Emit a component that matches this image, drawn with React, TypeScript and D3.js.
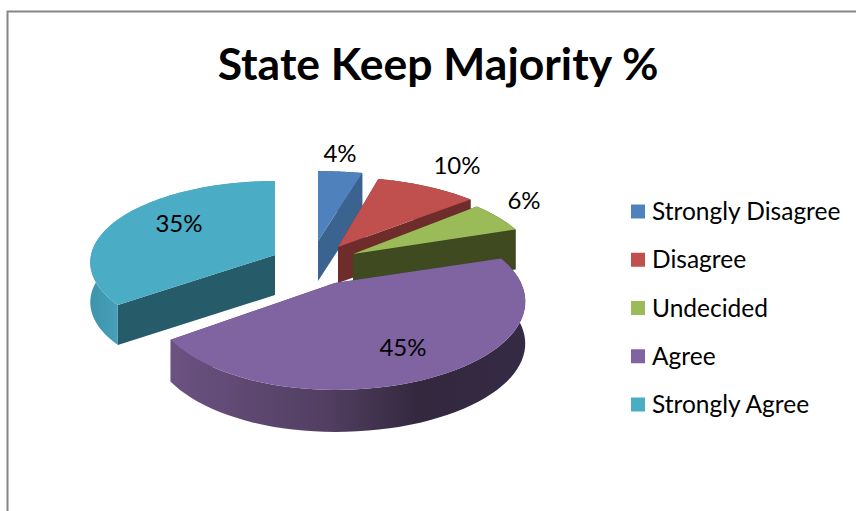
import React from "react";
import * as d3 from "d3";

const categories = ["Strongly Disagree", "Disagree", "Undecided", "Agree", "Strongly Agree"];
const values = [4, 10, 6, 45, 35];
const title = "State Keep Majority %";

const topColors = ["#4f81bd", "#c0504d", "#9bbb59", "#8064a2", "#4bacc6"];
const faceColors = ["#3b6390", "#6e2c2b", "#3f4a20", "#4a3a60", "#265b69"];
const apexes: [number, number][] = [[318, 241], [338, 247], [353, 254], [335, 283], [275, 255]];
const depths = [40, 36, 40, 42, 40];
const labelPositions: [number, number][] = [[340, 154], [457, 166], [524, 201], [403, 348], [179, 224]];
const drawOrder = [0, 4, 1, 2, 3];

const radiiRight = [214, 195, 182, 186, 184];
const radiiLeft = [214, 195, 182, 178, 184];
const perspectives = [0.21, 0.21, 0.21, 0.21, 0.09];
const tilts = [84.5, 84.5, 84.5, 84.5, 80.6];
const FONT = "Lato, Carlito, 'Open Sans', sans-serif";

function project(i: number, a: number, dz = 0): [number, number] {
  const apex = apexes[i];
  const X = Math.sin(a);
  const Z = Math.cos(a);
  const s = 1 / (1 + perspectives[i] * Z);
  const R = X < 0 ? radiiLeft[i] : radiiRight[i];
  return [apex[0] + R * X * s, apex[1] - tilts[i] * Z * s + dz];
}

export default function App() {
  const arcs = d3.pie<number>().sort(null)(values);
  const line = d3.line();
  const sample = (a0: number, a1: number) => d3.range(0, 61).map((k) => a0 + ((a1 - a0) * k) / 60);

  return (
    <svg
      width={856}
      height={511}
      style={{ position: "absolute", left: 0, top: 0, background: "#fff" }}
    >
      <defs>
        <linearGradient id="rim3" gradientUnits="userSpaceOnUse" x1={170} x2={524} y1={0} y2={0}>
          <stop offset="0" stopColor="#6b5282" />
          <stop offset="0.45" stopColor="#513e60" />
          <stop offset="0.7" stopColor="#34283f" />
          <stop offset="1" stopColor="#352a44" />
        </linearGradient>
        <linearGradient id="rim4" gradientUnits="userSpaceOnUse" x1={91} x2={125} y1={0} y2={0}>
          <stop offset="0" stopColor="#3d94ab" />
          <stop offset="1" stopColor="#4aa3bc" />
        </linearGradient>
      </defs>
      <path d="M856,11.5 H7.5 V511" fill="none" stroke="#868686" strokeWidth={2} />
      <text
        x={438}
        y={80}
        textAnchor="middle"
        fontFamily={FONT}
        fontWeight={700}
        fontSize={44.5}
        fill="#000"
      >
        {title}
      </text>

      {drawOrder.map((i) => {
        const d = arcs[i];
        const apex = apexes[i];
        const depth = depths[i];
        const top = sample(d.startAngle, d.endAngle).map((a) => project(i, a));
        const bottom = sample(d.startAngle, d.endAngle).map((a) => project(i, a, depth)).reverse();
        const rim = line([...top, ...bottom]) + "Z";
        const facePts = (a: number): [number, number][] => [
          apex,
          project(i, a),
          project(i, a, depth),
          [apex[0], apex[1] + depth],
        ];
        const rimFill = i === 3 ? "url(#rim3)" : i === 4 ? "url(#rim4)" : faceColors[i];
        return (
          <g key={categories[i]}>
            <path d={line(facePts(d.startAngle)) + "Z"} fill={faceColors[i]} />
            <path d={line(facePts(d.endAngle)) + "Z"} fill={faceColors[i]} />
            <path d={rim} fill={rimFill} />
            <path d={line([apex, ...top]) + "Z"} fill={topColors[i]} />
          </g>
        );
      })}

      {values.map((v, i) => (
        <text
          key={categories[i]}
          x={labelPositions[i][0]}
          y={labelPositions[i][1]}
          dy="0.35em"
          textAnchor="middle"
          fontFamily={FONT}
          fontSize={24}
          fill="#000"
        >
          {v}%
        </text>
      ))}

      {categories.map((c, i) => (
        <g key={c} transform={`translate(631,${211.5 + i * 48.25})`}>
          <rect x={0} y={-7} width={14} height={14} fill={topColors[i]} />
          <text x={21} y={0} dy="0.35em" fontFamily={FONT} fontSize={24.5} fill="#000">
            {c}
          </text>
        </g>
      ))}
    </svg>
  );
}
